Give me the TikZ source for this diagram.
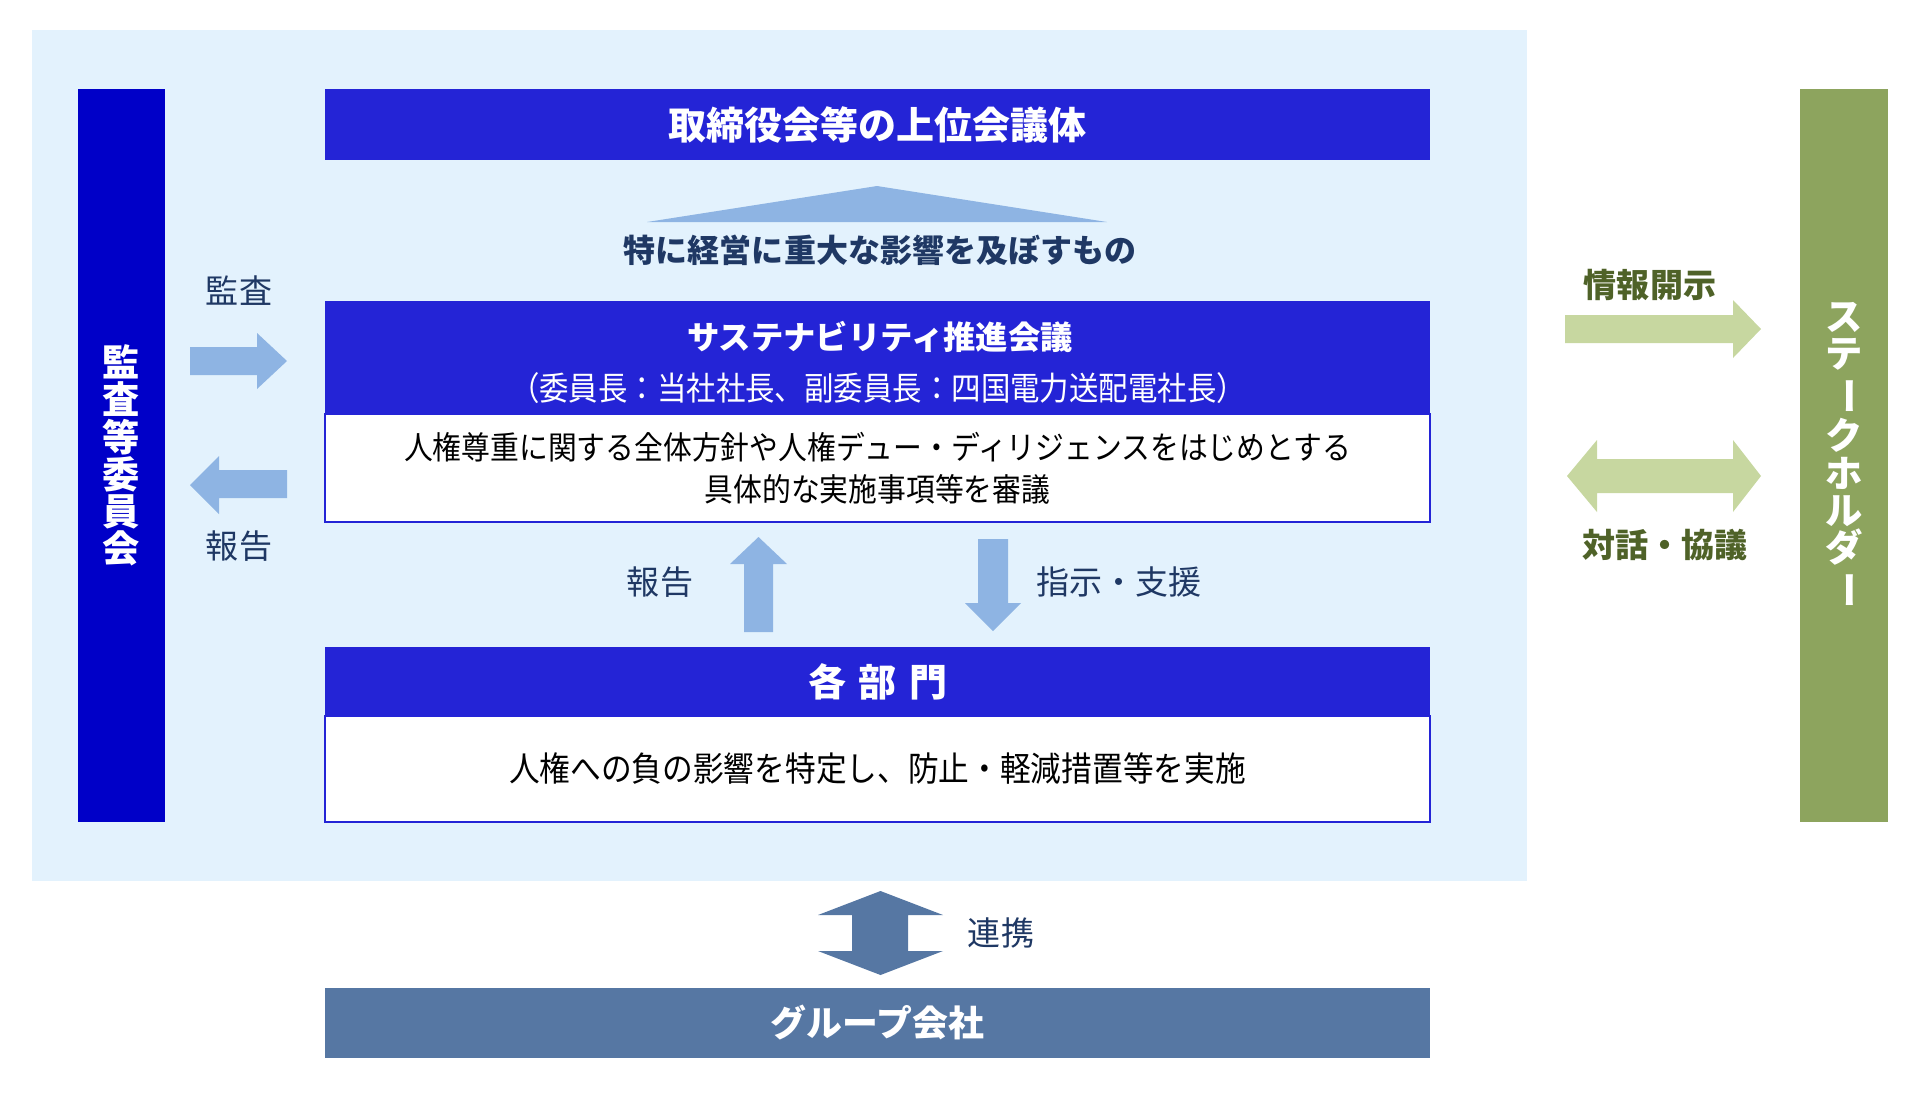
\documentclass[tikz,border=0pt]{standalone}
\usepackage{fontspec}
\setmainfont{Noto Sans CJK JP}
\newfontfamily\narrowjp{Noto Sans CJK JP}[FakeStretch=0.9]
\usetikzlibrary{positioning}
\definecolor{bgblue}{RGB}{227,242,253}
\definecolor{auditblue}{RGB}{0,0,200}
\definecolor{headblue}{RGB}{36,36,214}
\definecolor{arrowblue}{RGB}{142,180,227}
\definecolor{groupblue}{RGB}{86,119,163}
\definecolor{navytext}{RGB}{31,56,100}
\definecolor{stakegreen}{RGB}{141,164,94}
\definecolor{palegreen}{RGB}{199,215,160}
\definecolor{olivetext}{RGB}{79,98,40}

\tikzset{
  headbar/.style={fill=headblue, inner sep=0pt, outer sep=0pt, minimum width=11.05cm, text=white},
  bodybox/.style={fill=white, draw=headblue, line width=0.02cm, inner sep=0pt, minimum width=11.05cm, align=center},
  sidebar/.style={inner sep=0pt, outer sep=0pt, minimum height=7.33cm, text=white, align=center,
    font=\fontsize{10.6pt}{10.6pt}\selectfont\bfseries},
  flowlabel/.style={text=navytext, font=\fontsize{9.4pt}{11pt}\selectfont},
  stakelabel/.style={text=olivetext, font=\fontsize{9.4pt}{11pt}\selectfont\bfseries}
}

\begin{document}
\begin{tikzpicture}[x=0.01cm, y=-0.01cm]
  \useasboundingbox (0,0) rectangle (1920,1093);

  % Company frame
  \fill[bgblue] (32,30) rectangle (1527,881);

  % Audit committee and stakeholders
  \node[sidebar, fill=auditblue, minimum width=0.87cm] (audit) at (121.5,455.5) {監\\査\\等\\委\\員\\会};
  \node[sidebar, fill=stakegreen, minimum width=0.88cm] (stake) at (1844,455.5)
    {ス\\テ\\\rotatebox[origin=c]{-90}{ー}\\ク\\ホ\\ル\\ダ\\\rotatebox[origin=c]{-90}{ー}};

  % Upper body
  \node[headbar, minimum height=0.71cm, font=\fontsize{10.8pt}{13pt}\selectfont\bfseries] (board) at (877.5,124.5) {取締役会等の上位会議体};
  \fill[arrowblue] (647,222) -- (877,186) -- (1107,222) -- cycle;
  \node[text=navytext, font=\fontsize{9.1pt}{11pt}\selectfont\bfseries] (serious) at (880,250) {特に経営に重大な影響を及ぼすもの};

  % Sustainability council
  \node[headbar, minimum height=1.13cm] (council) at (877.5,357.5) {};
  \node[text=white, font=\fontsize{9.2pt}{11pt}\selectfont\bfseries] (counciltitle) at (880,337) {サステナビリティ推進会議};
  \node[text=white, font=\fontsize{9.3pt}{11pt}\selectfont\narrowjp] (councilchair) at (878,388) {（委員長：当社社長、副委員長：四国電力送配電社長）};
  \node[bodybox, minimum height=1.08cm, font=\fontsize{9.1pt}{11.95pt}\selectfont\narrowjp] (councilbody) at (877.5,468)
    {人権尊重に関する全体方針や人権デュー・ディリジェンスをはじめとする\\具体的な実施事項等を審議};

  % Departments
  \node[headbar, minimum height=0.69cm, font=\fontsize{10.8pt}{13pt}\selectfont\bfseries] (dept) at (877.5,681.5) {各\hspace{0.33em}部\hspace{0.33em}門};
  \node[bodybox, minimum height=1.06cm, font=\fontsize{9.7pt}{11pt}\selectfont\narrowjp] (deptbody) at (877.5,769)
    {人権への負の影響を特定し、防止・軽減措置等を実施};

  % Group companies
  \node[fill=groupblue, inner sep=0pt, minimum width=11.05cm, minimum height=0.70cm, text=white,
    font=\fontsize{10.2pt}{12pt}\selectfont\bfseries] (group) at (877.5,1023) {グループ会社};

  % Audit / report arrows
  \fill[arrowblue] (190,347) -- (257,347) -- (257,333) -- (287,361) -- (257,389) -- (257,375) -- (190,375) -- cycle;
  \node[flowlabel] (auditlabel) at (239,291) {監査};
  \fill[arrowblue] (287,470) -- (219,470) -- (219,456) -- (190,485) -- (219,514) -- (219,498) -- (287,498) -- cycle;
  \node[flowlabel] (reportleft) at (239,546) {報告};

  % Report up / instruction down
  \fill[arrowblue] (744,632) -- (744,564) -- (730,564) -- (758.5,537) -- (787,564) -- (773,564) -- (773,632) -- cycle;
  \node[flowlabel] (reportup) at (660,582) {報告};
  \fill[arrowblue] (978,539) -- (1008,539) -- (1008,603) -- (1021,603) -- (993,631) -- (965,603) -- (978,603) -- cycle;
  \node[flowlabel] (direct) at (1119,582) {指示・支援};

  % Cooperation with group companies
  \fill[groupblue] (880.5,891) -- (943,915) -- (908,915) -- (908,951) -- (943,951) -- (880.5,975)
    -- (818,951) -- (852,951) -- (852,915) -- (818,915) -- cycle;
  \node[flowlabel] (link) at (1001,933) {連携};

  % Stakeholder arrows
  \fill[palegreen] (1565,315) -- (1733,315) -- (1733,300) -- (1761,329) -- (1733,358) -- (1733,343) -- (1565,343) -- cycle;
  \node[stakelabel] (disclose) at (1650,285) {情報開示};
  \fill[palegreen] (1567,476) -- (1597,440) -- (1597,459) -- (1733,459) -- (1733,440) -- (1761,476)
    -- (1733,512) -- (1733,493) -- (1597,493) -- (1597,512) -- cycle;
  \node[stakelabel] (dialogue) at (1665,545) {対話・協議};
\end{tikzpicture}
\end{document}
